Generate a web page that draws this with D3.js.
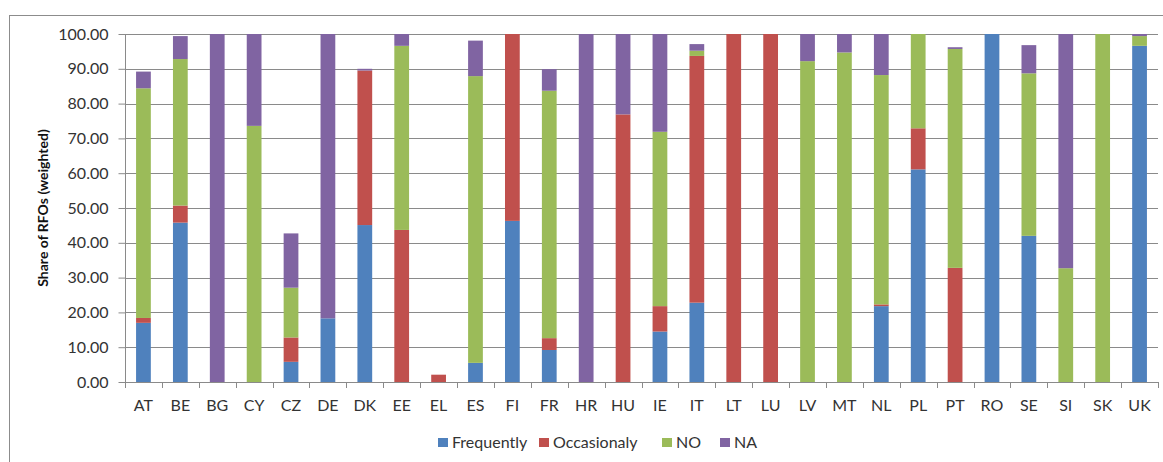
<!DOCTYPE html>
<html><head><meta charset="utf-8">
<script src="https://cdn.jsdelivr.net/npm/d3@7"></script>
<style>body{margin:0;background:#fff;}svg{display:block;font-family:Lato,"Open Sans",sans-serif;}</style>
</head><body><svg id="c" width="1163" height="462"></svg>
<script>
const categories = ["AT","BE","BG","CY","CZ","DE","DK","EE","EL","ES","FI","FR","HR","HU","IE","IT","LT","LU","LV","MT","NL","PL","PT","RO","SE","SI","SK","UK"];
const seriesNames = ["Frequently","Occasionaly","NO","NA"];
const frequently  = [17.0,45.8,0,0,5.8,18.3,45.1,0,0,5.5,46.3,9.2,0,0,14.5,22.8,0,0,0,0,21.8,61.1,0,100,42.0,0,0,96.6];
const occasionaly = [1.4,4.9,0,0,7.0,0,44.4,43.7,2.1,0,53.7,3.4,0,76.9,7.3,70.9,100,100,0,0,0.5,11.8,32.8,0,0,0,0,0];
const no          = [66.0,42.1,0,73.6,14.3,0,0,52.9,0,82.4,0,71.1,0,0,50.1,1.5,0,0,92.2,94.7,65.9,27.1,62.9,0,46.7,32.7,100,2.8];
const na          = [4.8,6.6,100,26.4,15.6,81.7,0.5,3.4,0,10.2,0,6.2,100,23.1,28.1,1.9,0,0,7.8,5.3,11.8,0,0.5,0,8.1,67.3,0,0.6];
const yTicks = [0,10,20,30,40,50,60,70,80,90,100];
const colors = ["#4F81BD","#C0504D","#9BBB59","#8064A2"];

const svg = d3.select("#c");
const m = {left:125, right:1158, top:34, bottom:382};
const x = d3.scaleBand().domain(categories).range([m.left, m.right]).paddingInner(0.6).paddingOuter(0.3);
const xb = d3.scaleBand().domain(categories).range([m.left, m.right]);
const y = d3.scaleLinear().domain([0,100]).range([m.bottom, m.top]);

// frame
svg.append("rect").attr("x",9.5).attr("y",15.5).attr("width",1170).attr("height",480)
  .attr("fill","none").attr("stroke","#8c8c8c").attr("stroke-width",1);

// gridlines
svg.append("g").selectAll("line").data(yTicks.filter(d=>d>0)).join("line")
  .attr("x1",m.left).attr("x2",m.right).attr("y1",d=>Math.round(y(d))+0.5).attr("y2",d=>Math.round(y(d))+0.5)
  .attr("stroke","#8a8a8a").attr("stroke-width",1);

// y axis
const ya = svg.append("g").attr("transform",`translate(${m.left+0.5},0)`)
  .call(d3.axisLeft(y).tickValues(yTicks).tickFormat(d3.format(".2f")).tickSize(7).tickPadding(10));
ya.select(".domain").attr("stroke","#8a8a8a").attr("d",`M-0,${m.bottom}V${m.top}`);
ya.selectAll(".tick line").attr("stroke","#8a8a8a");
ya.selectAll("text").attr("font-size",16).attr("fill","#333").attr("font-family","Lato,sans-serif");

// stacked data
const rows = categories.map((c,i)=>({cat:c, Frequently:frequently[i], Occasionaly:occasionaly[i], NO:no[i], NA:na[i]}));
const stack = d3.stack().keys(seriesNames)(rows);
svg.append("g").selectAll("g").data(stack).join("g").attr("fill",(d,i)=>colors[i])
  .selectAll("rect").data(d=>d).join("rect")
  .attr("x",d=>x(d.data.cat)).attr("width",x.bandwidth())
  .attr("y",d=>y(d[1])).attr("height",d=>Math.max(0,y(d[0])-y(d[1])));

// x axis
const xg = svg.append("g");
xg.append("line").attr("x1",m.left).attr("x2",m.right).attr("y1",m.bottom+0.5).attr("y2",m.bottom+0.5).attr("stroke","#8a8a8a");
const bounds = categories.map(c=>xb(c)).concat([m.right]);
xg.selectAll("line.t").data(bounds).join("line").attr("class","t")
  .attr("x1",d=>Math.round(d)+0.5).attr("x2",d=>Math.round(d)+0.5).attr("y1",m.bottom).attr("y2",m.bottom+6).attr("stroke","#8a8a8a");
xg.selectAll("text").data(categories).join("text")
  .attr("x",d=>xb(d)+xb.bandwidth()/2).attr("y",411).attr("text-anchor","middle")
  .attr("font-size",16).attr("fill","#333").text(d=>d);

// y label
svg.append("text").attr("transform","translate(48,208) rotate(-90)").attr("text-anchor","middle")
  .attr("font-size",14).attr("font-weight","bold").attr("fill","#111").text("Share of RFOs (weighted)");

// legend
const legX = [438,539,662,720];
const lg = svg.append("g").selectAll("g").data(seriesNames).join("g")
  .attr("transform",(d,i)=>`translate(${legX[i]},0)`);
lg.append("rect").attr("x",0).attr("y",438).attr("width",10).attr("height",9).attr("fill",(d,i)=>colors[i]);
lg.append("text").attr("x",14).attr("y",448).attr("font-size",16).attr("fill","#333").text(d=>d);
</script></body></html>
